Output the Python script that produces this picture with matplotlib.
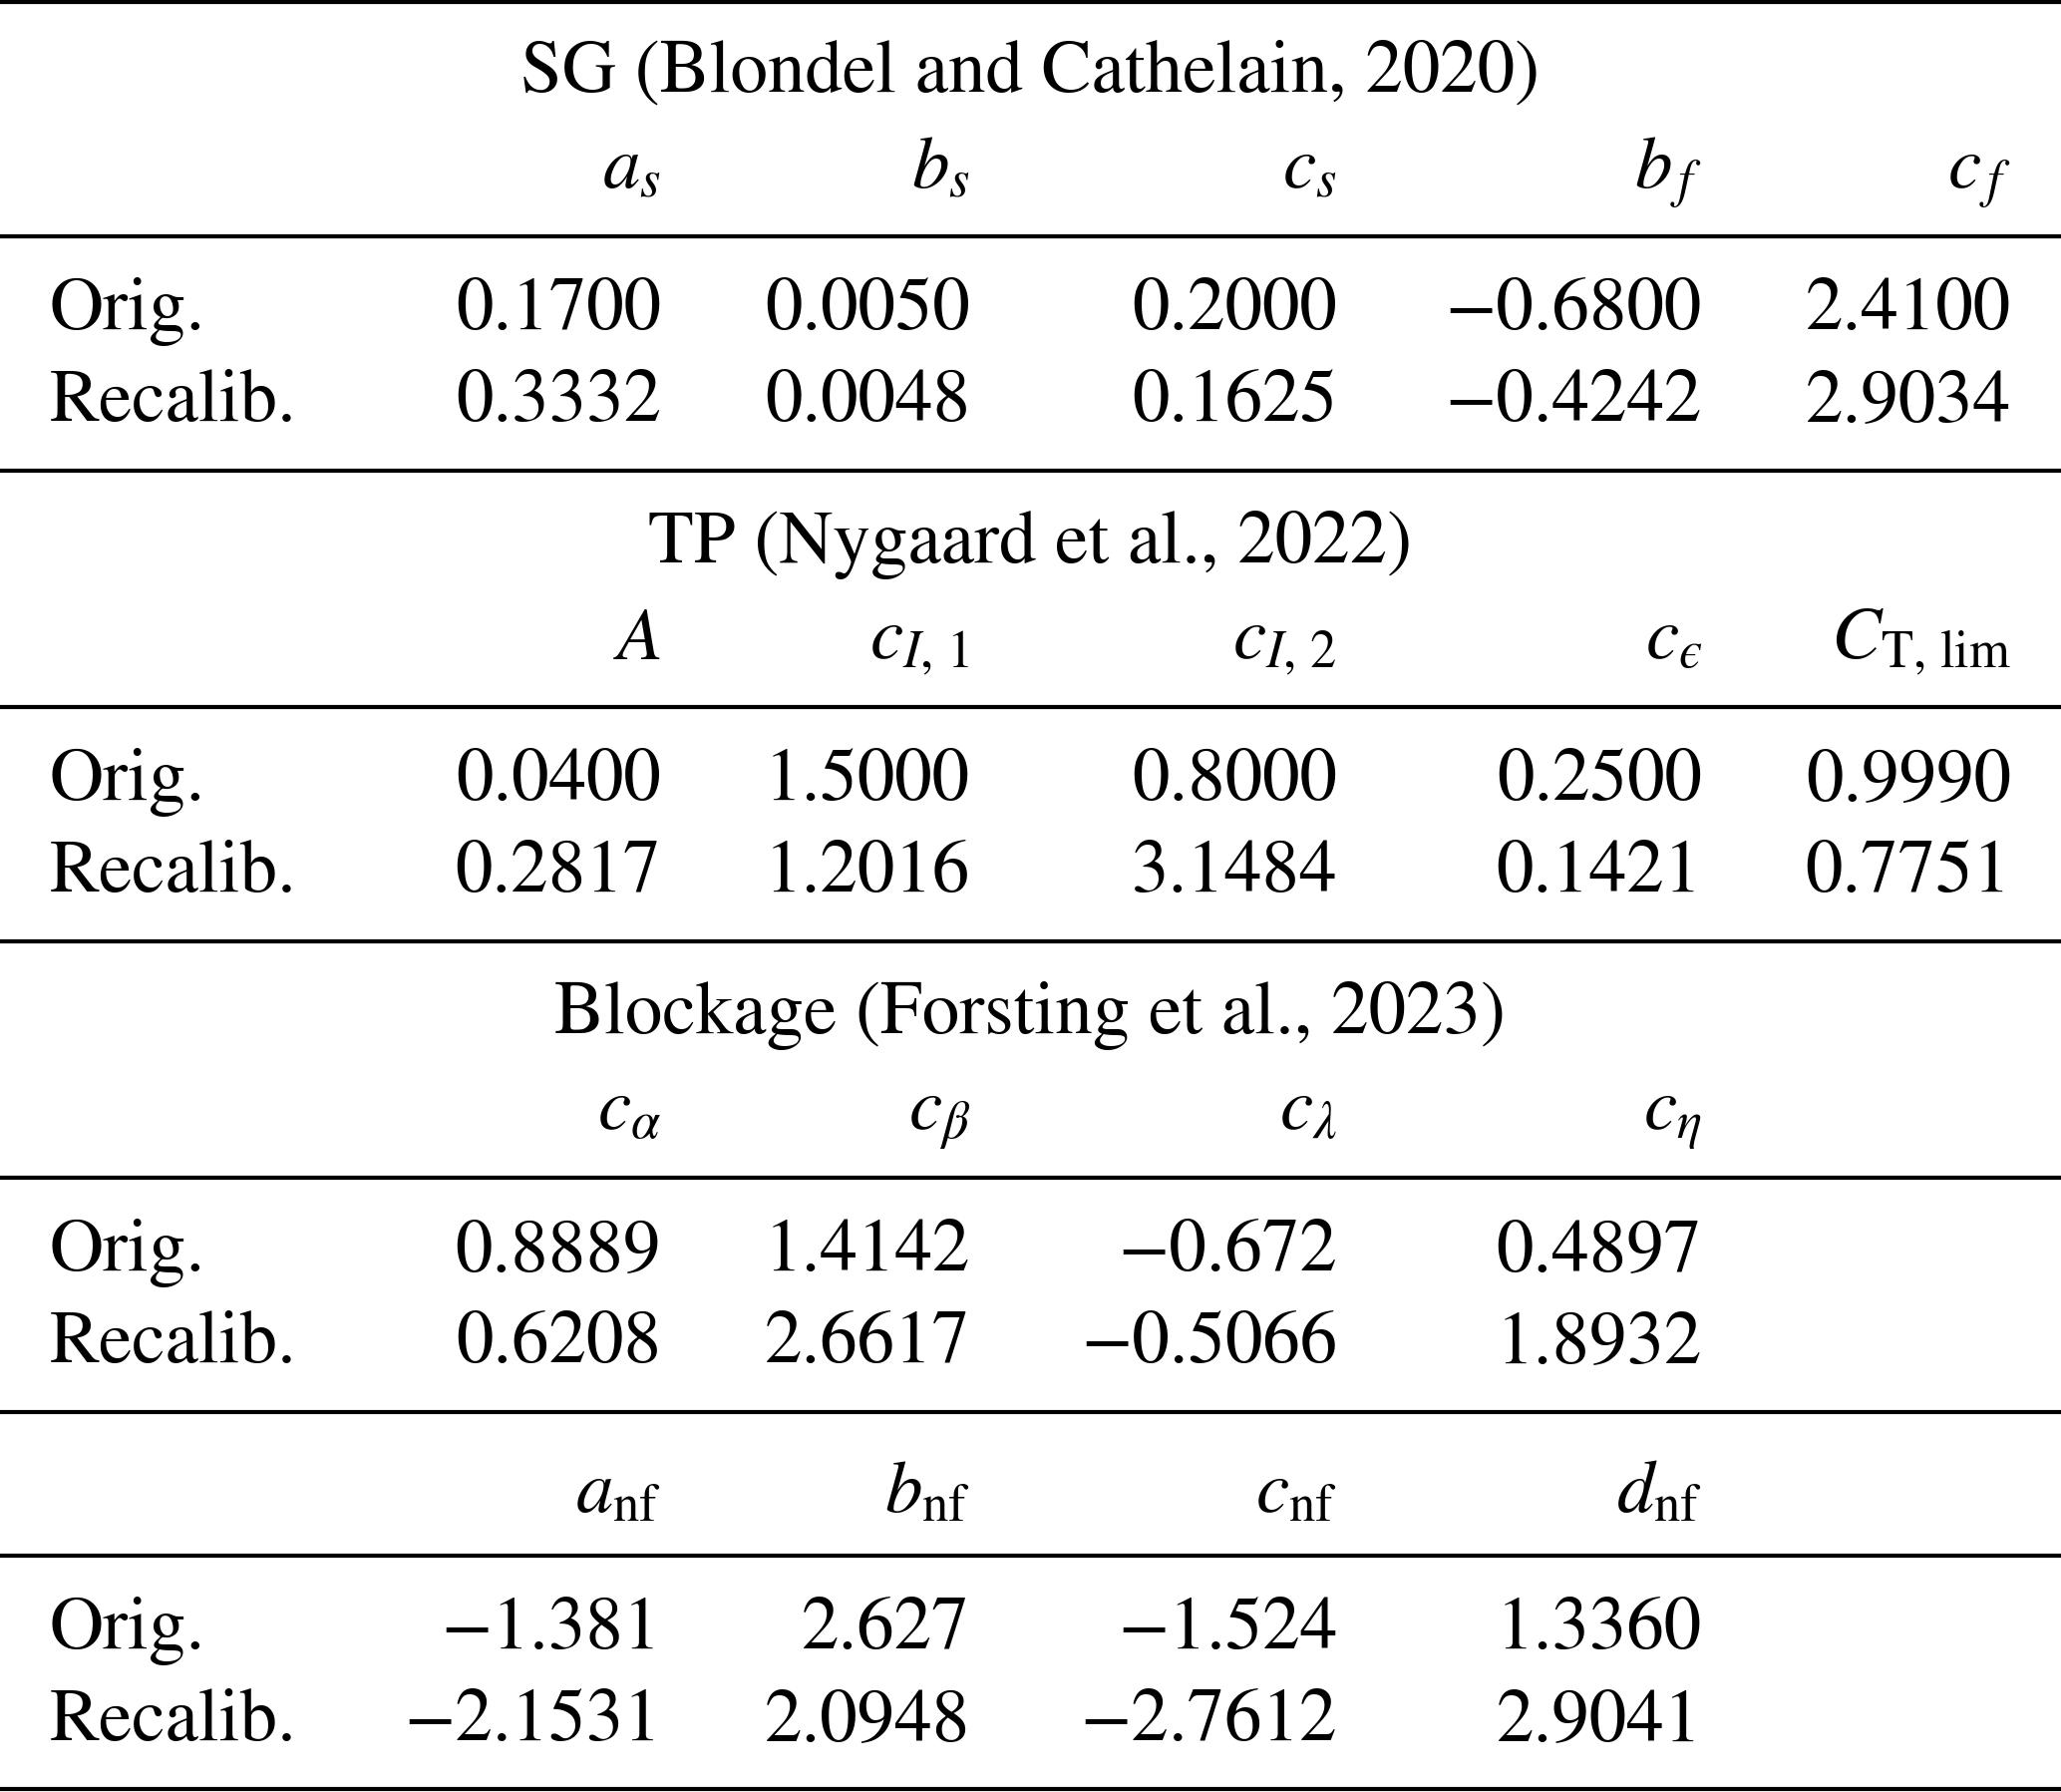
import matplotlib.pyplot as plt

plt.rcParams['mathtext.fontset'] = 'stix'
plt.rcParams['font.family'] = 'STIXGeneral'

# table content
titles = ['SG (Blondel and Cathelain, 2020)',
          'TP (Nygaard et al., 2022)',
          'Blockage (Forsting et al., 2023)',
          None]
headers = [[r'$a_s$', r'$b_s$', r'$c_s$', r'$b_{\,f}$', r'$c_{\,f}$'],
           [r'$A$', r'$c_{I,\,1}$', r'$c_{I,\,2}$', '$c_{\u03f5}$', r'$C_{\mathrm{T,\,lim}}$'],
           [r'$c_\alpha$', r'$c_\beta$', r'$c_\lambda$', r'$c_\eta$'],
           [r'$a_{\mathrm{nf}}$', r'$b_{\mathrm{nf}}$', r'$c_{\mathrm{nf}}$', r'$d_{\mathrm{nf}}$']]
row_labels = ['Orig.', 'Recalib.']
orig = [['0.1700', '0.0050', '0.2000', '\u22120.6800', '2.4100'],
        ['0.0400', '1.5000', '0.8000', '0.2500', '0.9990'],
        ['0.8889', '1.4142', '\u22120.672', '0.4897'],
        ['\u22121.381', '2.627', '\u22121.524', '1.3360']]
recalib = [['0.3332', '0.0048', '0.1625', '\u22120.4242', '2.9034'],
           ['0.2817', '1.2016', '3.1484', '0.1421', '0.7751'],
           ['0.6208', '2.6617', '\u22120.5066', '1.8932'],
           ['\u22122.1531', '2.0948', '\u22122.7612', '2.9041']]

W, H = 2067, 1797
fig = plt.figure(figsize=(W / 100, H / 100), dpi=100)
ax = fig.add_axes([0, 0, 1, 1])
ax.set_xlim(0, W)
ax.set_ylim(H, 0)
ax.axis('off')

col_x = [663, 973, 1341, 1707, 2017]
label_x = 50
fs = 54
lw = 3.0

ax.axhline(2, color='black', lw=lw)
top = 0
for k in range(4):
    if titles[k] is not None:
        ax.text(W / 2, top + 92, titles[k], ha='center', va='baseline', fontsize=fs)
        head_y = top + 189
        line_y = top + 237
    else:
        head_y = top + 100
        line_y = top + 144
    for j, h in enumerate(headers[k]):
        ax.text(col_x[j], head_y, h, ha='right', va='baseline', fontsize=fs)
    ax.axhline(line_y, color='black', lw=lw)
    r1 = line_y + 93
    r2 = line_y + 185
    ax.text(label_x, r1, row_labels[0], ha='left', va='baseline', fontsize=fs)
    ax.text(label_x, r2, row_labels[1], ha='left', va='baseline', fontsize=fs)
    for j, v in enumerate(orig[k]):
        ax.text(col_x[j], r1, v, ha='right', va='baseline', fontsize=fs)
    for j, v in enumerate(recalib[k]):
        ax.text(col_x[j], r2, v, ha='right', va='baseline', fontsize=fs)
    top = line_y + 235
    ax.axhline(min(top, H - 3), color='black', lw=lw)

fig.savefig('out.png', dpi=100, facecolor='white')
